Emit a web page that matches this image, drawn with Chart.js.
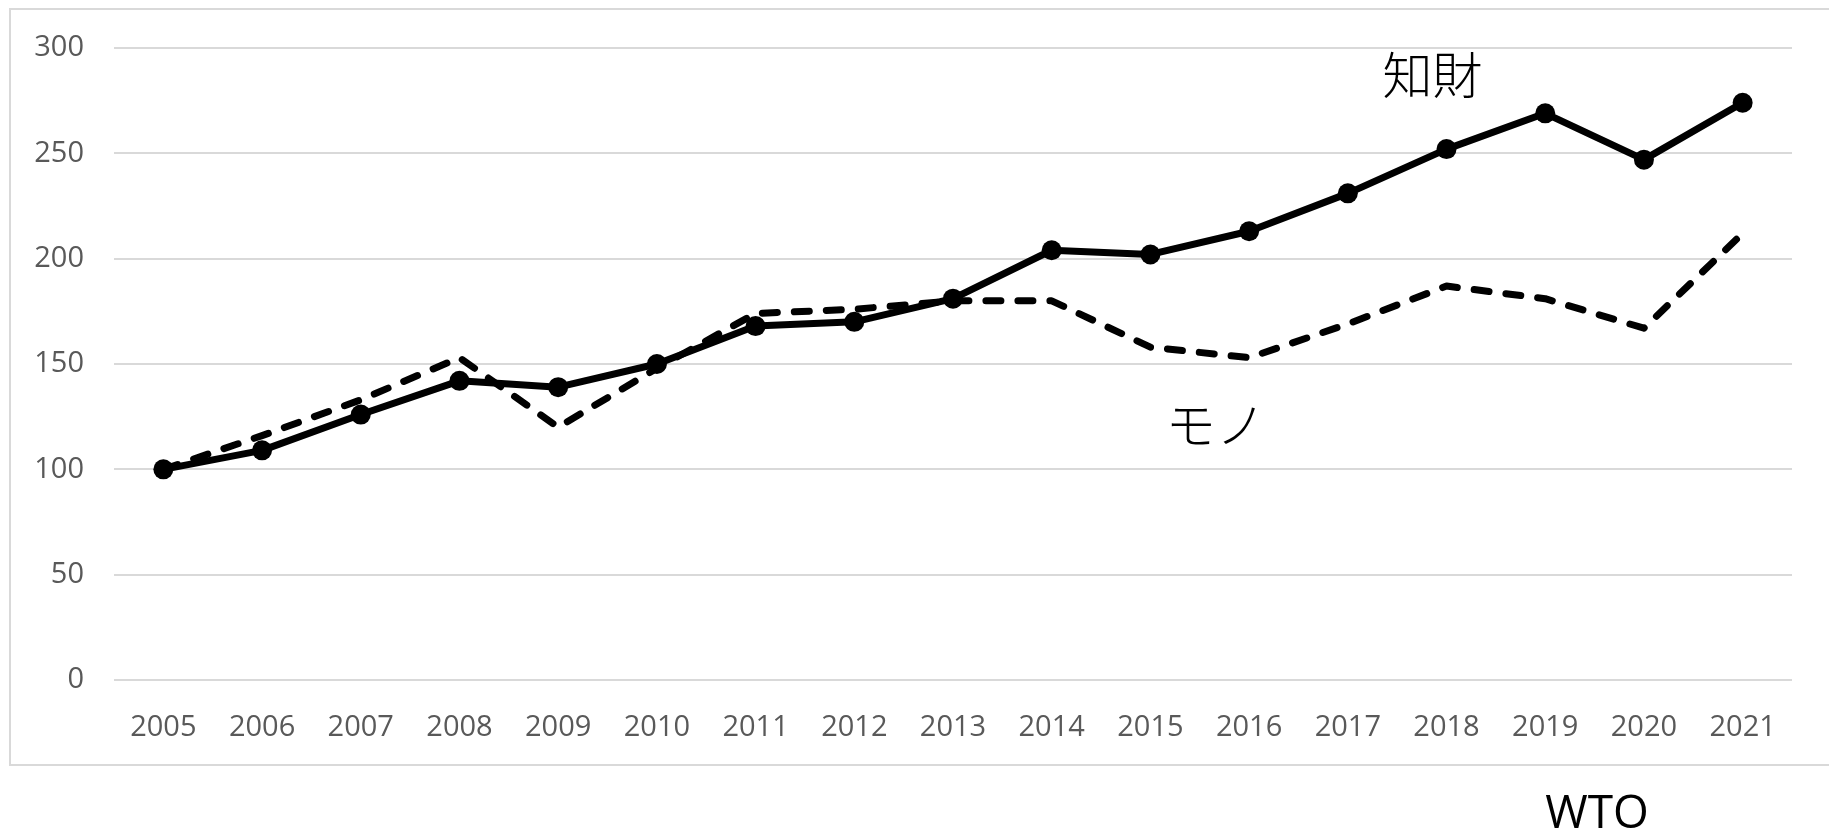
<!DOCTYPE html>
<html>
<head>
<meta charset="utf-8">
<script src="https://cdn.jsdelivr.net/npm/chart.js@4"></script>
<style>
  html, body { margin: 0; padding: 0; background: #fff; }
  #wrap { width: 1829px; height: 835px; }
</style>
</head>
<body>
<div id="wrap"><canvas id="myChart"></canvas></div>
<script>
// data
const years = ['2005', '2006', '2007', '2008', '2009', '2010', '2011', '2012', '2013',
  '2014', '2015', '2016', '2017', '2018', '2019', '2020', '2021'];
const chizai = [100, 109, 126, 142, 139, 150, 168, 170, 181, 204, 202, 213, 231, 252, 269, 247, 274];
const mono = [100, 116, 133, 153, 120, 148, 174, 176, 180, 180, 158, 153, 169, 187, 181, 167, 212];
const yTicks = [0, 50, 100, 150, 200, 250, 300];

const tickFont = { family: "'Open Sans', 'Noto Sans', sans-serif", size: 29 };
const tickColor = '#595959';
const gridColor = '#d9d9d9';

// frame around the plot, like the excel chart area border
const framePlugin = {
  id: 'frame',
  beforeDraw(chart) {
    const c = chart.ctx;
    c.save();
    c.fillStyle = '#fff';
    c.fillRect(0, 0, chart.width, chart.height);
    c.strokeStyle = gridColor;
    c.lineWidth = 2;
    c.strokeRect(10, 9, chart.width + 20, 756);
    c.restore();
  }
};

// text labels for the two series and the source
const labelPlugin = {
  id: 'labels',
  afterDraw(chart) {
    const c = chart.ctx;
    const x = chart.scales.x, y = chart.scales.y;
    c.save();
    c.fillStyle = '#000';
    c.textAlign = 'center';
    c.textBaseline = 'middle';
    c.font = "300 50px 'Noto Sans CJK JP', sans-serif";
    c.fillText('知財', x.getPixelForValue(13) - 14, y.getPixelForValue(287));
    c.fillText('モノ', (x.getPixelForValue(10) + x.getPixelForValue(11)) / 2 + 16, y.getPixelForValue(121));
    c.font = "46px 'Open Sans', sans-serif";
    c.fillText('WTO', 1597, 815);
    c.restore();
  }
};

const ctx = document.getElementById('myChart');

new Chart(ctx, {
  type: 'line',
  data: {
    labels: years,
    datasets: [{
      label: '知財',
      data: chizai,
      borderColor: '#000',
      backgroundColor: '#000',
      borderWidth: 7,
      borderJoinStyle: 'round',
      pointRadius: 10,
      pointBackgroundColor: '#000',
      pointBorderWidth: 0,
      tension: 0
    }, {
      label: 'モノ',
      data: mono,
      borderColor: '#000',
      borderWidth: 7,
      borderDash: [15, 17],
      borderCapStyle: 'round',
      borderJoinStyle: 'round',
      pointRadius: 0,
      tension: 0
    }]
  },
  options: {
    responsive: true,
    maintainAspectRatio: false,
    animation: false,
    layout: { padding: { top: 48, right: 37, left: 0, bottom: 0 } },
    plugins: {
      legend: { display: false },
      tooltip: { enabled: false }
    },
    scales: {
      x: {
        offset: true,
        grid: { display: false, drawTicks: false },
        border: { display: false },
        ticks: { font: tickFont, color: tickColor, padding: 30, maxRotation: 0 },
        afterFit(scale) { scale.height = 155; }
      },
      y: {
        min: 0,
        max: 300,
        afterBuildTicks(scale) { scale.ticks = yTicks.map(v => ({ value: v })); },
        grid: { color: gridColor, lineWidth: 2, drawTicks: false },
        border: { display: false },
        ticks: { font: tickFont, color: tickColor, padding: 30 },
        afterFit(scale) { scale.width = 114; }
      }
    }
  },
  plugins: [framePlugin, labelPlugin]
});
</script>
</body>
</html>
